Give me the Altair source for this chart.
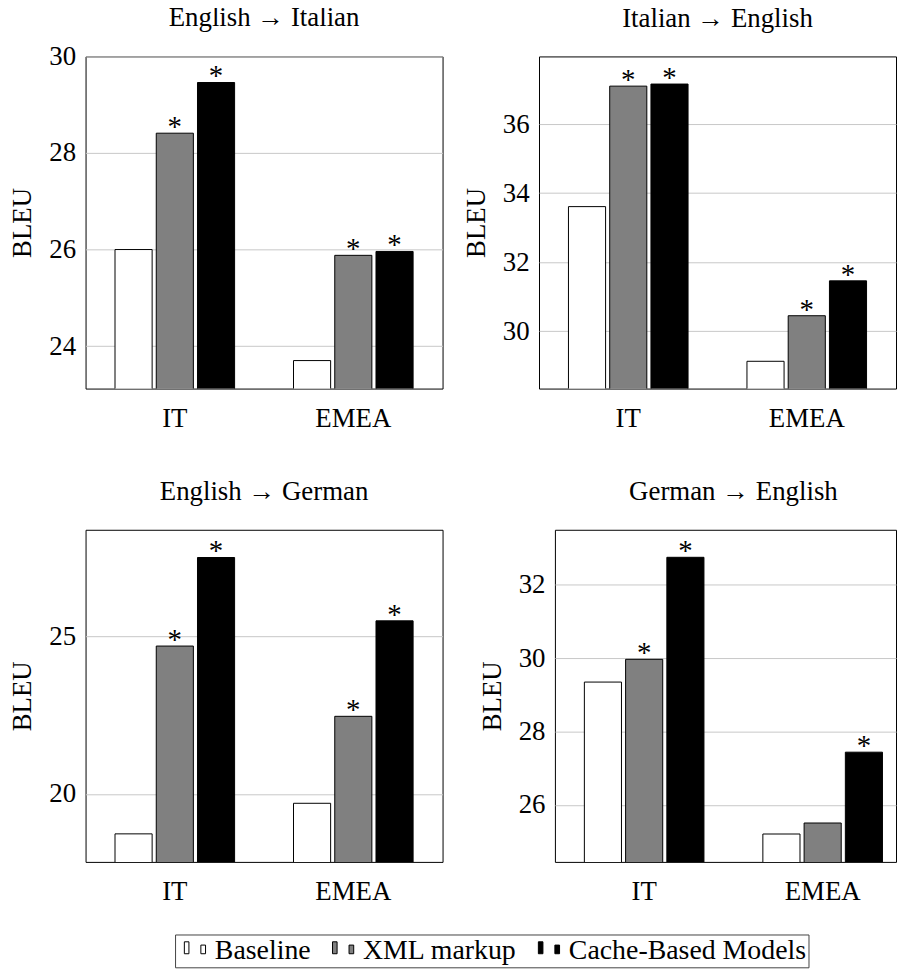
import altair as alt
import pandas as pd

FONT = "Liberation Serif"

directions = ["English → Italian", "Italian → English", "English → German", "German → English"]
domains = ["IT", "EMEA"]
systems = ["Baseline", "XML markup", "Cache-Based Models"]
colors = ["#ffffff", "#808080", "#000000"]

# BLEU scores, [IT, EMEA]
en_it_baseline = [26.00, 23.70]
en_it_xml = [28.41, 25.88]
en_it_cache = [29.46, 25.96]

it_en_baseline = [33.61, 29.13]
it_en_xml = [37.10, 30.45]
it_en_cache = [37.16, 31.46]

en_de_baseline = [18.73, 19.70]
en_de_xml = [24.69, 22.46]
en_de_cache = [27.50, 25.49]

de_en_baseline = [29.35, 25.21]
de_en_xml = [29.97, 25.51]
de_en_cache = [32.75, 27.44]

# significance markers (*), [IT, EMEA]
en_it_sig_xml = [True, True]
en_it_sig_cache = [True, True]
it_en_sig_xml = [True, True]
it_en_sig_cache = [True, True]
en_de_sig_xml = [True, True]
en_de_sig_cache = [True, True]
de_en_sig_xml = [True, False]
de_en_sig_cache = [True, True]

y_ranges = [[23.12, 30.0], [28.34, 37.96], [17.84, 28.38], [24.45, 33.50]]
y_ticks = [[24, 26, 28, 30], [30, 32, 34, 36], [20, 25], [26, 28, 30, 32]]

panel_values = [
    (en_it_baseline, en_it_xml, en_it_cache, en_it_sig_xml, en_it_sig_cache),
    (it_en_baseline, it_en_xml, it_en_cache, it_en_sig_xml, it_en_sig_cache),
    (en_de_baseline, en_de_xml, en_de_cache, en_de_sig_xml, en_de_sig_cache),
    (de_en_baseline, de_en_xml, de_en_cache, de_en_sig_xml, de_en_sig_cache),
]

# per-panel layout: width, x-scale outer padding / align, title offset, title dx
panel_width = [359, 359, 359, 343]
x_outer = [0.165, 0.165, 0.165, 0.1204]
x_align = [0.5, 0.5, 0.5, 0.685]
title_offset = [10.5, 24, 24, 24]
title_dx = [0, 0, 0, 8]

# pgfplots-style legend image: a tall and a short bar
LEGEND_PATH = ("M-0.533,-0.672L-0.213,-0.672L-0.213,0.164L-0.533,0.164Z "
               "M0.624,-0.443L0.951,-0.443L0.951,0.164L0.624,0.164Z")


def make_df(i):
    base, xml, cache, sxml, scache = panel_values[i]
    rows = []
    for j, d in enumerate(domains):
        rows.append({"domain": d, "system": systems[0], "bleu": base[j], "sig": False})
        rows.append({"domain": d, "system": systems[1], "bleu": xml[j], "sig": sxml[j]})
        rows.append({"domain": d, "system": systems[2], "bleu": cache[j], "sig": scache[j]})
    return pd.DataFrame(rows)


def panel(i, show_legend):
    df = make_df(i)
    base = alt.Chart(df)
    x = alt.X("domain:N",
              scale=alt.Scale(domain=domains, paddingInner=0.33, paddingOuter=x_outer[i],
                              align=x_align[i]),
              axis=alt.Axis(title=None, labelAngle=0))
    xo = alt.XOffset("system:N", scale=alt.Scale(domain=systems, paddingInner=0.1, paddingOuter=0))
    y = alt.Y("bleu:Q", scale=alt.Scale(domain=y_ranges[i], zero=False, nice=False),
              axis=alt.Axis(title="BLEU", values=y_ticks[i]))
    if show_legend:
        legend = alt.Legend(
            title=None, orient="none", legendX=90, legendY=883,
            direction="horizontal", columns=3,
            symbolType=LEGEND_PATH, symbolSize=824,
            symbolStrokeColor="black", symbolStrokeWidth=1, symbolOpacity=1,
            labelFont=FONT, labelFontSize=28, labelColor="black", labelLimit=600,
            labelOffset=8, columnPadding=14, padding=2,
            strokeColor="#444444", fillColor="white",
        )
    else:
        legend = None
    fill = alt.Fill("system:N", scale=alt.Scale(domain=systems, range=colors), legend=legend)
    bars = base.mark_bar(stroke="black", strokeWidth=1, clip=True).encode(
        x=x, xOffset=xo, y=y, fill=fill)
    stars = base.transform_filter("datum.sig").mark_text(
        text="*", font=FONT, fontSize=29, baseline="alphabetic", dy=3, color="black"
    ).encode(x=x, xOffset=xo, y=y)
    return alt.layer(bars, stars).properties(
        width=panel_width[i], height=334,
        title=alt.TitleParams(directions[i], font=FONT, fontSize=27, fontWeight="normal",
                              color="black", offset=title_offset[i], dx=title_dx[i],
                              frame="group", anchor="middle"),
    )


row1 = alt.hconcat(panel(0, True), panel(1, False), spacing=18)
row2 = alt.hconcat(panel(2, False), panel(3, False), spacing=34)

chart = alt.vconcat(row1, row2, spacing=45).properties(
    padding={"top": -7, "left": 0, "right": 0, "bottom": 0}
).configure(
    font=FONT
).configure_view(
    stroke="black", strokeWidth=1
).configure_axis(
    labelFont=FONT, titleFont=FONT, labelFontSize=27, titleFontSize=27,
    labelColor="black", titleColor="black", titleFontWeight="normal",
    domain=False, ticks=False, tickSize=0,
).configure_axisY(
    grid=True, gridColor="#c8c8c8", gridWidth=1, labelPadding=10, titlePadding=12,
).configure_axisX(
    grid=False, labelPadding=17,
)

chart.save("out.html", embed_options={"renderer": "svg", "actions": False})
